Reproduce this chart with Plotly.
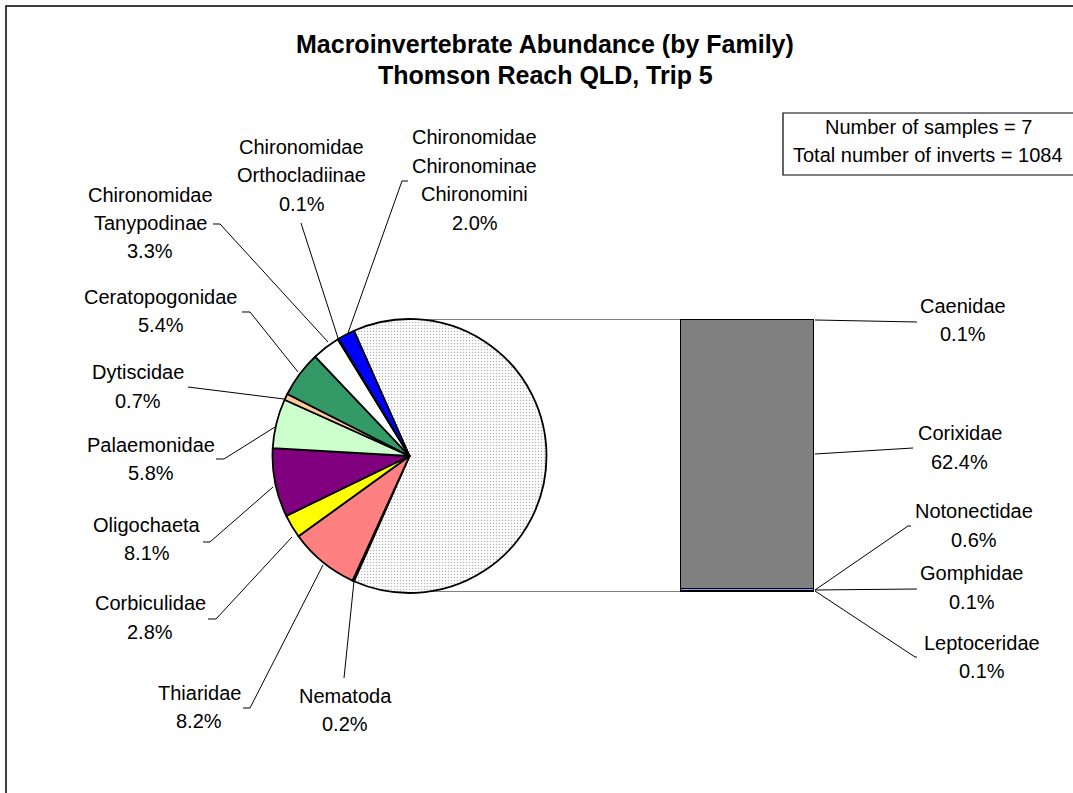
import plotly.graph_objects as go

# ---------------- data ----------------
TOTAL = 1084
N_SAMPLES = 7

# pie slices (clockwise, after the "other" slice that is broken out into the bar)
pie_names = ["Nematoda", "Thiaridae", "Corbiculidae", "Oligochaeta", "Palaemonidae",
             "Dytiscidae", "Ceratopogonidae", "Chironomidae<br>Tanypodinae",
             "Chironomidae<br>Orthocladiinae", "Chironomidae<br>Chironominae<br>Chironomini"]
pie_counts = [2, 89, 30, 88, 63, 8, 59, 36, 1, 22]
pie_colors = ["#222222", "#FF8080", "#FFFF00", "#800080", "#CCFFCC",
              "#FFCC99", "#339966", "#FFFFFF", "#000080", "#0000FF"]

# bar segments (bottom to top)
bar_names = ["Leptoceridae", "Gomphidae", "Notonectidae", "Corixidae", "Caenidae"]
bar_counts = [1, 1, 7, 676, 1]
bar_colors = ["#000080", "#333399", "#9999FF", "#808080", "#808080"]

title_lines = ["Macroinvertebrate Abundance (by Family)", "Thomson Reach QLD, Trip 5"]

# ---------------- layout helpers ----------------
W, H = 1073, 793
FONT = "Liberation Sans, Arial, sans-serif"
LINE = 28.5


def px(x):
    return x / W


def py(y):
    return 1 - y / H


other_count = sum(bar_counts)
other_frac = other_count / TOTAL

fig = go.Figure()

# ---- pie ----
pie_vals = [other_count] + pie_counts
pie_cols = ["#FFFFFF"] + pie_colors
pie_shapes = ["."] + [""] * len(pie_counts)
cx, cy, r = 409.5, 456, 137
fig.add_trace(go.Pie(
    labels=["Other"] + [n.replace("<br>", " ") for n in pie_names],
    values=pie_vals,
    sort=False,
    direction="clockwise",
    rotation=90 - other_frac * 180,
    textinfo="none",
    hoverinfo="label+percent",
    showlegend=False,
    marker=dict(colors=pie_cols, line=dict(color="black", width=1.8),
                pattern=dict(shape=pie_shapes, fgcolor="#b4b4b4", size=3, solidity=0.2)),
    domain=dict(x=[px(cx - r), px(cx + r)], y=[py(cy + r), py(cy - r)]),
))

# ---- stacked bar ----
for name, val, col in zip(bar_names, bar_counts, bar_colors):
    fig.add_trace(go.Bar(
        x=[0], y=[val], name=name, width=1, marker=dict(color=col, line=dict(color="black", width=1.5)),
        showlegend=False, hoverinfo="name+y",
    ))

fig.update_layout(
    barmode="stack",
    xaxis=dict(domain=[px(680), px(814)], range=[-0.5, 0.5], visible=False, fixedrange=True),
    yaxis=dict(domain=[py(592), py(319)], range=[0, other_count], visible=False, fixedrange=True),
    width=W, height=H,
    margin=dict(l=0, r=0, t=0, b=0),
    paper_bgcolor="white", plot_bgcolor="rgba(0,0,0,0)",
    font=dict(family=FONT, size=20, color="black"),
)

shapes = []
# chart outer border
shapes.append(dict(type="rect", xref="paper", yref="paper", x0=px(6), y0=py(6), x1=px(1090), y1=py(810),
                   line=dict(color="black", width=1.5), fillcolor="rgba(0,0,0,0)", layer="below"))
# series lines pie -> bar
for yy in (319.5, 591.5):
    shapes.append(dict(type="line", xref="paper", yref="paper", x0=px(400), y0=py(yy), x1=px(680), y1=py(yy),
                       line=dict(color="#808080", width=1.2), layer="below"))


def poly(points):
    d = "M " + " L ".join(f"{px(x):.5f},{py(y):.5f}" for x, y in points)
    return dict(type="path", xref="paper", yref="paper", path=d, line=dict(color="black", width=1))


leaders = [
    [(408, 181), (402, 181), (348, 333)],
    [(301, 223), (338, 338)],
    [(213, 224), (220, 224), (328, 342)],
    [(242, 312), (250, 312), (298, 372)],
    [(188, 387), (284, 399)],
    [(216, 459), (224, 459), (275, 427)],
    [(203, 542), (210, 542), (273, 487)],
    [(208, 619), (216, 619), (292, 537)],
    [(243, 708), (250, 708), (323, 565)],
    [(344, 678), (354, 581)],
    [(815, 320), (917, 322)],
    [(815, 454), (913, 448)],
    [(815, 590), (908, 526), (911, 526)],
    [(815, 590), (917, 589)],
    [(815, 591), (915, 657), (917, 657)],
]
for pts in leaders:
    shapes.append(poly(pts))

# stats box
shapes.append(dict(type="rect", xref="paper", yref="paper", x0=px(783), y0=py(113), x1=px(1085), y1=py(175),
                   line=dict(color="black", width=1.2), fillcolor="white"))
fig.update_layout(shapes=shapes)

ann = []


def add_block(lines, x, ymid, spacing, size=20, bold=False):
    n = len(lines)
    for i, t in enumerate(lines):
        y = ymid + (i - (n - 1) / 2) * spacing
        ann.append(dict(text=f"<b>{t}</b>" if bold else t, x=px(x), y=py(y), xref="paper", yref="paper",
                        showarrow=False, xanchor="center", yanchor="middle",
                        font=dict(size=size, family=FONT, color="black")))


# title
add_block(title_lines, 545, 59.5, 31, size=25, bold=True)
add_block([f"Number of samples = {N_SAMPLES}", f"Total number of inverts = {TOTAL}"], 928, 141, 28)

pie_label_pos = [(345, 710), (199, 707), (150, 617.5), (146.5, 539), (151, 459),
                 (138, 386.5), (160.5, 311), (150, 223), (301.5, 175), (474.5, 180)]
for name, cnt, (x, y) in zip(pie_names, pie_counts, pie_label_pos):
    add_block(name.split("<br>") + [f"{cnt / TOTAL * 100:.1f}%"], x, y, LINE)

bar_label_pos = [(981.5, 657), (971.5, 587.5), (974, 525.5), (959.5, 447.5), (963, 320)]
for name, cnt, (x, y) in zip(bar_names, bar_counts, bar_label_pos):
    add_block([name, f"{cnt / TOTAL * 100:.1f}%"], x, y, LINE)
fig.update_layout(annotations=ann)

fig.write_html("out.html", config={"displayModeBar": False},
               post_script="document.body.style.margin='0px';document.body.style.overflow='hidden';")
